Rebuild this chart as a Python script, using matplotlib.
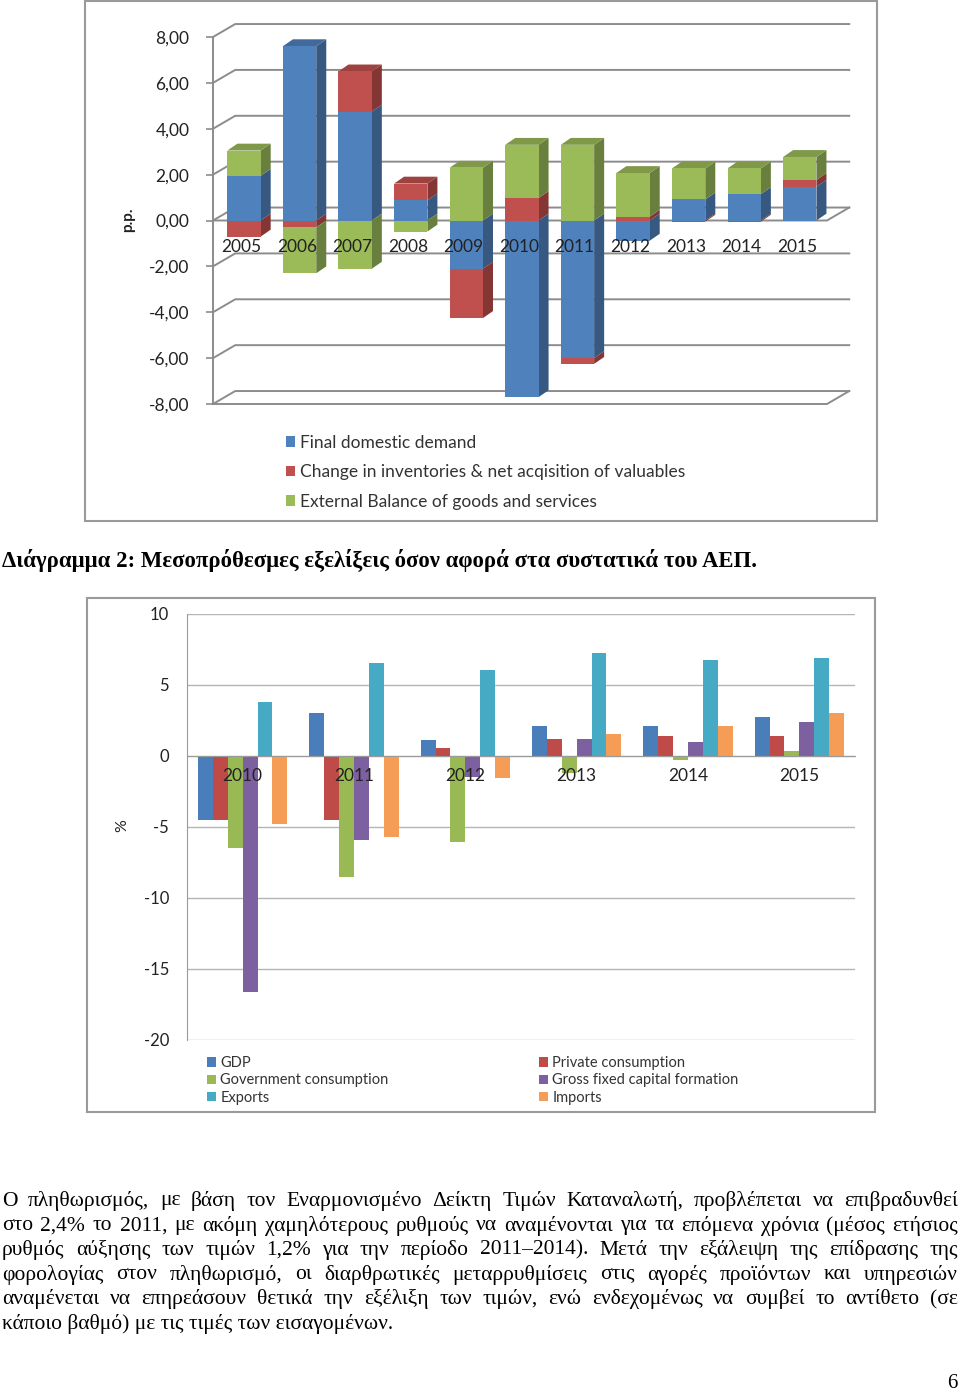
import numpy as np
import matplotlib
matplotlib.use("Agg")
import matplotlib.pyplot as plt
from matplotlib.patches import Polygon, Rectangle
from matplotlib import colors as mcolors

plt.rcParams['font.family'] = ['Lato', 'DejaVu Sans']
plt.rcParams['axes.unicode_minus'] = False

# chart 1: contributions to growth (p.p.)
years1 = ['2005', '2006', '2007', '2008', '2009', '2010', '2011', '2012', '2013', '2014', '2015']
final_demand = [1.95, 7.6, 4.75, 0.88, -2.1, -7.7, -6.0, -0.88, 0.92, 1.15, 1.47]
inventories = [-0.7, -0.3, 1.75, 0.73, -2.15, 0.98, -0.25, 0.17, -0.05, -0.05, 0.3]
external = [1.1, -2.0, -2.1, -0.48, 2.3, 2.32, 3.3, 1.9, 1.35, 1.12, 1.0]
labels1 = ['Final domestic demand',
           'Change in inventories & net acqisition of valuables',
           'External Balance of goods and services']
colors1 = ['#4F81BD', '#C0504D', '#9BBB59']
yticks1 = [-8, -6, -4, -2, 0, 2, 4, 6, 8]

# chart 2: growth of GDP components (%)
years2 = ['2010', '2011', '2012', '2013', '2014', '2015']
gdp = [-4.5, 3.0, 1.1, 2.1, 2.1, 2.75]
private = [-4.5, -4.5, 0.55, 1.2, 1.4, 1.4]
government = [-6.5, -8.5, -6.1, -1.2, -0.3, 0.3]
gfcf = [-16.6, -5.9, -1.5, 1.2, 0.95, 2.4]
exports = [3.8, 6.5, 6.0, 7.2, 6.7, 6.9]
imports = [-4.8, -5.7, -1.6, 1.5, 2.1, 3.0]
labels2 = ['GDP', 'Private consumption', 'Government consumption',
           'Gross fixed capital formation', 'Exports', 'Imports']
colors2 = ['#4A7EBB', '#BE4B48', '#98B954', '#7D60A0', '#46AAC5', '#F59D56']
yticks2 = [-20, -15, -10, -5, 0, 5, 10]

caption = 'Διάγραμμα 2: Μεσοπρόθεσμες εξελίξεις όσον αφορά στα συστατικά του ΑΕΠ.'
para = [
    'Ο πληθωρισμός, με βάση τον Εναρμονισμένο Δείκτη Τιμών Καταναλωτή, προβλέπεται να επιβραδυνθεί',
    'στο 2,4% το 2011, με ακόμη χαμηλότερους ρυθμούς να αναμένονται για τα επόμενα χρόνια (μέσος ετήσιος',
    'ρυθμός αύξησης των τιμών 1,2% για την περίοδο 2011–2014). Μετά την εξάλειψη της επίδρασης της',
    'φορολογίας στον πληθωρισμό, οι διαρθρωτικές μεταρρυθμίσεις στις αγορές προϊόντων και υπηρεσιών',
    'αναμένεται να επηρεάσουν θετικά την εξέλιξη των τιμών, ενώ ενδεχομένως να συμβεί το αντίθετο (σε',
    'κάποιο βαθμό) με τις τιμές των εισαγομένων.',
]

W, H = 960, 1394


def fx(px):
    return px / W


def fy(py):
    return 1 - py / H


def shade(c, f):
    r, g, b = mcolors.to_rgb(c)
    return (r * f, g * f, b * f)


fig = plt.figure(figsize=(W / 100, H / 100), dpi=100)
fig.patch.set_facecolor('white')

# frames
for x0, y0, x1, y1 in [(85, 1, 877, 521), (87, 598, 875, 1112)]:
    fig.add_artist(Rectangle((fx(x0), fy(y1)), (x1 - x0) / W, (y1 - y0) / H,
                             transform=fig.transFigure, fill=False,
                             ec='#9a9a9a', lw=1.5))

# ---------- chart 1 (pseudo 3D stacked columns) ----------
ax1 = fig.add_axes([fx(213), fy(404), (827 - 213) / W, (404 - 37) / H])
n1 = len(years1)
x1 = np.arange(n1)
xl, xr = -0.558, 10.49
ax1.set_xlim(xl, xr)
ax1.set_ylim(-8, 8)
BX, BY = 0.40, 0.565   # back wall offset
DX, DY = 0.18, 0.30    # bar depth
BW = 0.6
grid_c = '#8c8c8c'

for t in yticks1:
    ax1.plot([xl, xl + BX, xr + BX], [t, t + BY, t + BY], color=grid_c, lw=1.4,
             zorder=0, clip_on=False)
ax1.plot([xl, xr, xr + BX], [-8, -8, -8 + BY], color=grid_c, lw=1.4, zorder=0, clip_on=False)
ax1.plot([xl, xr, xr + BX], [0, 0, BY], color=grid_c, lw=1.4, zorder=0, clip_on=False)
ax1.plot([xl, xl], [-8, 8], color=grid_c, lw=1.4, zorder=0, clip_on=False)

pos = np.zeros(n1)
neg = np.zeros(n1)
top_col = [None] * n1
handles1 = []
for vals, col, lab in zip([final_demand, inventories, external], colors1, labels1):
    vals = np.array(vals)
    bottom = np.where(vals >= 0, pos, neg)
    h = ax1.bar(x1, vals, BW, bottom=bottom, color=col, label=lab, zorder=3,
                clip_on=False, linewidth=0)
    handles1.append(h)
    for xi, b, v in zip(x1, bottom, vals):
        r = xi + BW / 2
        ax1.add_patch(Polygon([(r, b), (r + DX, b + DY), (r + DX, b + v + DY), (r, b + v)],
                              closed=True, fc=shade(col, 0.68), ec='none', zorder=2,
                              clip_on=False))
    for i in range(n1):
        if vals[i] > 0:
            top_col[i] = col
    pos = np.where(vals >= 0, pos + vals, pos)
    neg = np.where(vals < 0, neg + vals, neg)

for i in range(n1):
    top = pos[i]
    col = top_col[i] if top_col[i] else colors1[0]
    l, r = x1[i] - BW / 2, x1[i] + BW / 2
    ax1.add_patch(Polygon([(l, top), (r, top), (r + DX, top + DY), (l + DX, top + DY)],
                          closed=True, fc=shade(col, 0.82), ec='none', zorder=2,
                          clip_on=False))

for xi, lab in zip(x1, years1):
    ax1.text(xi - 0.05, -1.15, lab, ha='center', va='center', fontsize=12.5,
             color='#222222', zorder=6)

ax1.set_xticks([])
ax1.set_yticks(yticks1)
ax1.set_yticklabels([f'{t:.2f}'.replace('.', ',') for t in yticks1])
ax1.tick_params(axis='y', length=5, width=1.2, color=grid_c, pad=12,
                labelsize=12.5, labelcolor='#222222')
for s in ax1.spines.values():
    s.set_visible(False)
ax1.patch.set_alpha(0)

fig.text(fx(128), fy(220), 'p.p.', rotation=90, ha='center', va='center',
         fontsize=11, fontweight='bold', color='#222222')

fig.legend(handles=handles1, labels=labels1, loc='upper left',
           bbox_to_anchor=(fx(270), fy(419)), frameon=False, fontsize=12.5,
           handlelength=0.55, handleheight=0.55, handletextpad=0.25,
           labelspacing=0.78, labelcolor='#333333')

# ---------- caption ----------
fig.text(fx(2), fy(561), caption, ha='left', va='center', fontsize=16.4,
         fontweight='bold', family=['Liberation Serif', 'DejaVu Serif'])

# ---------- chart 2 (grouped columns) ----------
ax2 = fig.add_axes([fx(187), fy(1040), (855 - 187) / W, (1040 - 613.5) / H])
x2 = np.arange(len(years2))
w = 1 / 7.5
series2 = [gdp, private, government, gfcf, exports, imports]
bars2 = []
for k, (vals, col, lab) in enumerate(zip(series2, colors2, labels2)):
    b = ax2.bar(x2 + (k - 2.5) * w, vals, w, color=col, label=lab, zorder=1, linewidth=0)
    bars2.append(b)
ax2.set_xlim(-0.5, 5.5)
ax2.set_ylim(-20, 10)
ax2.set_yticks(yticks2)
for t in yticks2:
    ax2.axhline(t, color='#b5b5b5', lw=1, zorder=0)
ax2.set_xticks(x2)
ax2.set_xticklabels(years2)
ax2.spines['bottom'].set_position(('data', 0))
ax2.spines['bottom'].set_color('#9a9a9a')
ax2.spines['left'].set_color('#9a9a9a')
ax2.spines['top'].set_visible(False)
ax2.spines['right'].set_visible(False)
ax2.tick_params(axis='x', length=0, pad=9, labelsize=12.5, labelcolor='#222222')
ax2.tick_params(axis='y', length=0, pad=13, labelsize=12, labelcolor='#222222')

fig.text(fx(122), fy(826), '%', rotation=90, ha='center', va='center',
         fontsize=11.5, color='#222222')

leg_kw = dict(loc='upper left', frameon=False, fontsize=10.5, handlelength=0.6,
              handleheight=0.6, handletextpad=0.3, labelspacing=0.22,
              labelcolor='#333333')
fig.legend(handles=[bars2[0], bars2[2], bars2[4]],
           labels=[labels2[0], labels2[2], labels2[4]],
           bbox_to_anchor=(fx(194), fy(1043)), **leg_kw)
fig.legend(handles=[bars2[1], bars2[3], bars2[5]],
           labels=[labels2[1], labels2[3], labels2[5]],
           bbox_to_anchor=(fx(526), fy(1043)), **leg_kw)

# ---------- justified paragraph ----------
serif = ['Liberation Serif', 'DejaVu Serif']
renderer = fig.canvas.get_renderer()
left_px, right_px = 2, 958
fs = 15.5
for li, line in enumerate(para):
    yc = fy(1201 + li * 24.6)
    if li == len(para) - 1:
        fig.text(fx(left_px), yc, line, ha='left', va='center', fontsize=fs, family=serif)
        continue
    words = line.split(' ')
    objs = [fig.text(0, yc, wd, ha='left', va='center', fontsize=fs, family=serif)
            for wd in words]
    widths = [o.get_window_extent(renderer).width for o in objs]
    gap = (right_px - left_px - sum(widths)) / (len(words) - 1)
    xpos = left_px
    for o, wd in zip(objs, widths):
        o.set_x(fx(xpos))
        xpos += wd + gap

fig.text(fx(957), fy(1383), '6', ha='right', va='center', fontsize=15, family=serif)

fig.savefig('out.png', dpi=100)
